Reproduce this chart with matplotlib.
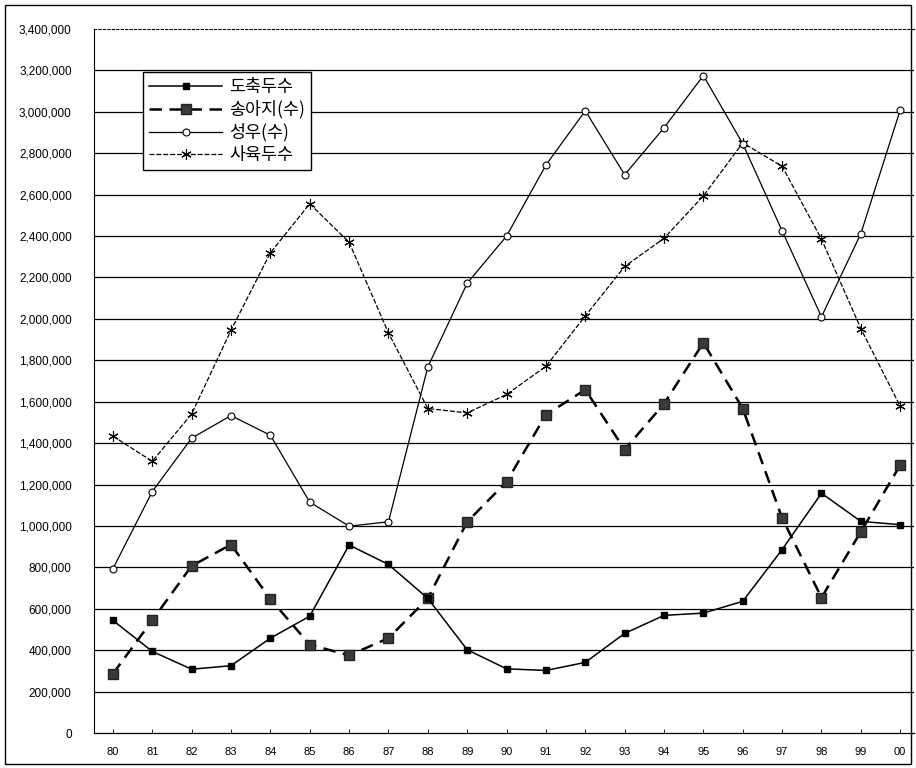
import matplotlib
matplotlib.use("Agg")
import matplotlib.pyplot as plt
from matplotlib.patches import Rectangle

plt.rcParams['font.family'] = ['Liberation Sans', 'Noto Sans CJK KR', 'DejaVu Sans']

years = ["80", "81", "82", "83", "84", "85", "86", "87", "88", "89", "90",
         "91", "92", "93", "94", "95", "96", "97", "98", "99", "00"]

slaughter = [544000, 394000, 308000, 325000, 458000, 564000, 908000, 814000, 650000, 402000, 310000,
             302000, 341000, 481000, 568000, 579000, 636000, 886000, 1158000, 1022000, 1006000]
calves = [286000, 544000, 807000, 910000, 647000, 427000, 375000, 458000, 650000, 1020000, 1213000,
          1537000, 1658000, 1369000, 1590000, 1885000, 1567000, 1038000, 654000, 972000, 1294000]
adult = [793000, 1166000, 1424000, 1533000, 1438000, 1115000, 999000, 1020000, 1768000, 2172000, 2400000,
         2743000, 3005000, 2696000, 2923000, 3175000, 2846000, 2425000, 2010000, 2412000, 3009000]
herd = [1434000, 1312000, 1541000, 1945000, 2319000, 2556000, 2370000, 1932000, 1567000, 1546000, 1635000,
        1771000, 2014000, 2253000, 2389000, 2594000, 2850000, 2737000, 2385000, 1953000, 1578000]

labels = ["도축두수", "송아지(수)", "성우(수)", "사육두수"]
yticks = list(range(0, 3400001, 200000))

W, H = 916, 768
fig = plt.figure(figsize=(W / 100, H / 100), dpi=100)
ax = fig.add_axes([94 / W, (H - 733) / H, (914 - 94) / W, (733 - 29) / H])

x = list(range(len(years)))

ax.plot(x, herd, color='black', lw=0.9, ls=(0, (4, 1.5)), marker=(6, 2, 0), ms=7.5, mew=0.8,
        label=labels[3], zorder=3)
ax.plot(x, adult, color='black', lw=0.9, ls='-', marker='o', ms=5, mfc='white', mec='black', mew=0.8,
        label=labels[2], zorder=3)
ax.plot(x, calves, color='black', lw=1.8, ls=(0, (5, 3)), marker='s', ms=7.5, mfc='#3a3a3a',
        mec='#222222', label=labels[1], zorder=4)
ax.plot(x, slaughter, color='black', lw=1.1, ls='-', marker='s', ms=4.5, mfc='black', mec='black',
        label=labels[0], zorder=5)

ax.set_xlim(-0.48, 20.35)
ax.set_ylim(0, 3400000)
ax.set_xticks(x)
ax.set_xticklabels(years, fontsize=8)
ax.set_yticks(yticks)
ax.set_yticklabels([f"{v:,}" for v in yticks], fontsize=8.5)
ax.tick_params(axis='y', length=0, pad=16)
ax.tick_params(axis='x', length=3, direction='in', pad=10, width=0.6)

for v in yticks[1:-1]:
    ax.axhline(v, color='black', lw=0.9, zorder=1)

ax.spines['right'].set_visible(False)
ax.spines['top'].set_linestyle((0, (2, 2)))
ax.spines['top'].set_linewidth(0.8)
ax.spines['left'].set_linestyle((0, (2, 1)))
ax.spines['left'].set_linewidth(0.8)
ax.spines['bottom'].set_linewidth(0.9)

handles, labs = ax.get_legend_handles_labels()
order = [3, 2, 1, 0]
leg = ax.legend([handles[i] for i in order], [labs[i] for i in order],
                loc='upper left', bbox_to_anchor=(0.06, 0.939), borderaxespad=0,
                fancybox=False, shadow=False, edgecolor='black', framealpha=1,
                handlelength=4.2, labelspacing=0.25, handletextpad=0.4, borderpad=0.35,
                prop={'family': ['Noto Sans CJK KR', 'DejaVu Sans'], 'size': 12.5})
leg.get_frame().set_linewidth(1.0)

fig.patches.append(Rectangle((5 / W, 4 / H), (911 - 5) / W, (763 - 4) / H, transform=fig.transFigure,
                             fill=False, edgecolor='black', lw=1.0))

fig.savefig("out.png", dpi=100)
